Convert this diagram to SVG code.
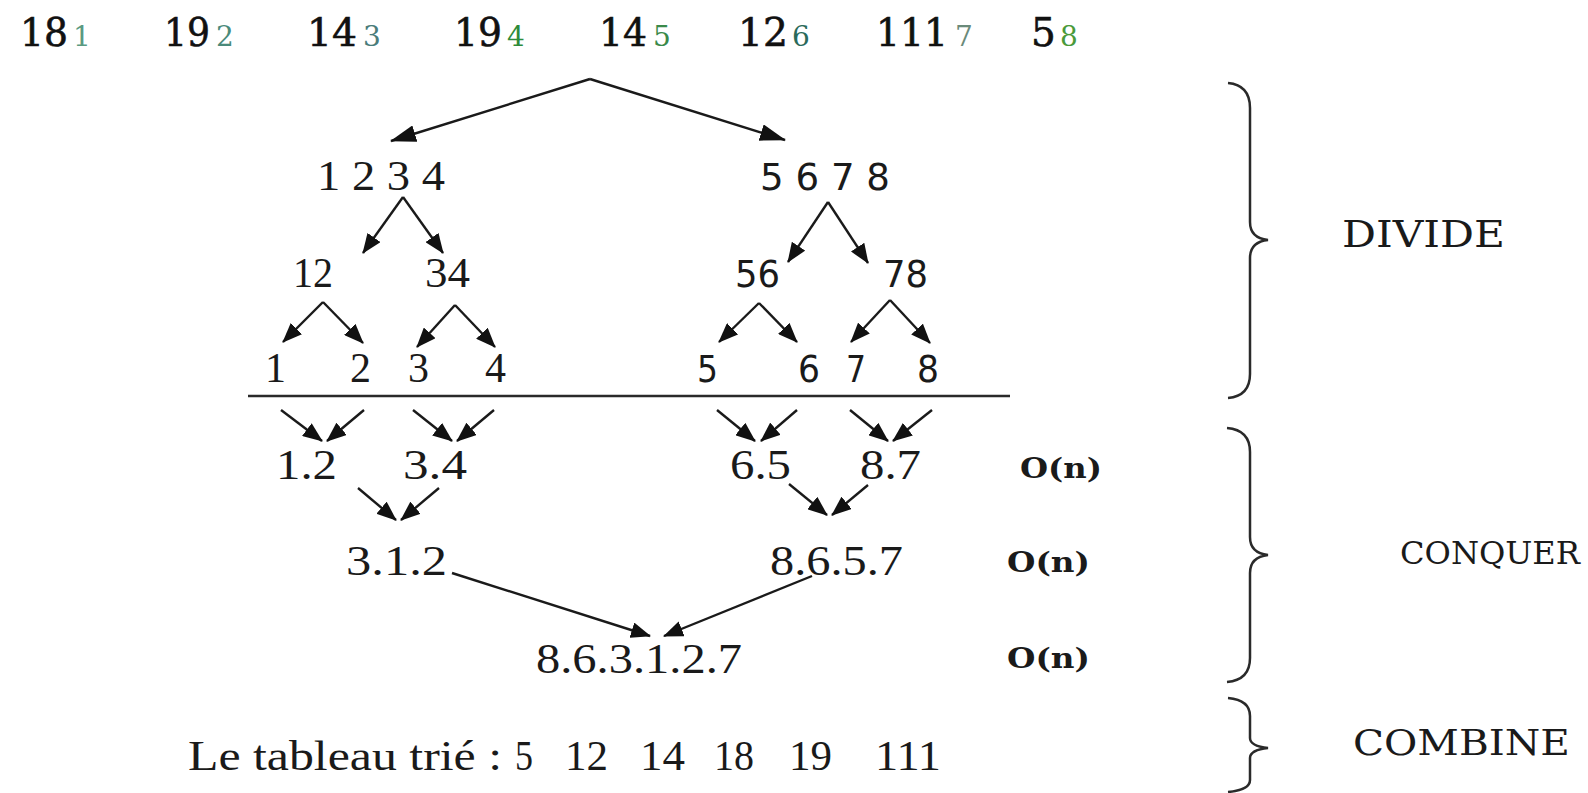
<svg xmlns="http://www.w3.org/2000/svg" width="1588" height="793" viewBox="0 0 1588 793">
<defs>
<style>
.top{font-family:"DejaVu Serif","Liberation Serif",serif;font-size:39px;fill:#111;stroke:#111;stroke-width:0.6}
.sub{font-family:"DejaVu Serif","Liberation Serif",serif;font-size:28px}
.ser{font-family:"Liberation Serif","Times New Roman",serif;font-size:42px;fill:#1a1a1a}
.san{font-family:"DejaVu Sans","Liberation Sans",sans-serif;font-size:38px;fill:#1a1a1a}
.on{font-family:"DejaVu Serif","Liberation Serif",serif;font-size:27px;font-weight:bold;fill:#1a1a1a}
.lab{font-family:"DejaVu Serif","Liberation Serif",serif;fill:#1a1a1a}
.ar{stroke:#1a1a1a;stroke-width:2.4;fill:none;marker-end:url(#ah)}
.arb{stroke:#1a1a1a;stroke-width:2.4;fill:none;marker-end:url(#ahb)}
.br{stroke:#2a2a2a;stroke-width:2.5;fill:none}
</style>
<marker id="ah" viewBox="0 0 20 16" refX="19" refY="8" markerWidth="20" markerHeight="16" markerUnits="userSpaceOnUse" orient="auto">
<path d="M0,0 L20,8 L0,16 z" fill="#111"/>
</marker>
<marker id="ahb" viewBox="0 0 26 17" refX="25" refY="8.5" markerWidth="26" markerHeight="17" markerUnits="userSpaceOnUse" orient="auto">
<path d="M0,0 L26,8.5 L0,17 z" fill="#111"/>
</marker>
</defs>
<rect width="1588" height="793" fill="#ffffff"/>

<g id="input-array">
<text class="top" x="20" y="46" textLength="48" lengthAdjust="spacingAndGlyphs">18</text><text class="sub" x="73" y="46" fill="#5a9a82">1</text>
<text class="top" x="164" y="46" textLength="46" lengthAdjust="spacingAndGlyphs">19</text><text class="sub" x="216" y="46" fill="#4a8a7a">2</text>
<text class="top" x="307" y="46" textLength="50" lengthAdjust="spacingAndGlyphs">14</text><text class="sub" x="363" y="46" fill="#4a7c7a">3</text>
<text class="top" x="454" y="46" textLength="48" lengthAdjust="spacingAndGlyphs">19</text><text class="sub" x="507" y="46" fill="#2e8b3a">4</text>
<text class="top" x="599" y="46" textLength="48" lengthAdjust="spacingAndGlyphs">14</text><text class="sub" x="653" y="46" fill="#3a8a4a">5</text>
<text class="top" x="738" y="46" textLength="50" lengthAdjust="spacingAndGlyphs">12</text><text class="sub" x="792" y="46" fill="#2a6a5a">6</text>
<text class="top" x="876" y="46" textLength="72" lengthAdjust="spacingAndGlyphs">111</text><text class="sub" x="955" y="46" fill="#6a8a7a">7</text>
<text class="top" x="1031" y="46" fill="#2a2a50" stroke="#2a2a50">5</text><text class="sub" x="1060" y="46" fill="#4a9a3a">8</text>
</g>

<g id="divide-left">
<text class="ser" x="317" y="190" textLength="128" lengthAdjust="spacingAndGlyphs">1 2 3 4</text>
<text class="ser" x="293" y="287" textLength="40" lengthAdjust="spacingAndGlyphs">12</text>
<text class="ser" x="425" y="287" textLength="45" lengthAdjust="spacingAndGlyphs">34</text>
<text class="ser" x="265" y="382">1</text>
<text class="ser" x="350" y="382">2</text>
<text class="ser" x="408" y="382">3</text>
<text class="ser" x="485" y="382">4</text>
</g>

<g id="divide-right">
<text class="san" x="760" y="190" textLength="130" lengthAdjust="spacingAndGlyphs">5 6 7 8</text>
<text class="san" x="735" y="287" textLength="45" lengthAdjust="spacingAndGlyphs">56</text>
<text class="san" x="883" y="287" textLength="45" lengthAdjust="spacingAndGlyphs">78</text>
<text class="san" x="697" y="382" textLength="21" lengthAdjust="spacingAndGlyphs">5</text>
<text class="san" x="798" y="382" textLength="22" lengthAdjust="spacingAndGlyphs">6</text>
<text class="san" x="846" y="382" textLength="20" lengthAdjust="spacingAndGlyphs">7</text>
<text class="san" x="917" y="382" textLength="22" lengthAdjust="spacingAndGlyphs">8</text>
</g>

<g id="separator">
<line x1="248" y1="396" x2="1010" y2="396" stroke="#2a2a2a" stroke-width="2.5"/>
</g>

<g id="conquer">
<text class="ser" x="276" y="479" textLength="61" lengthAdjust="spacingAndGlyphs">1.2</text>
<text class="ser" x="403" y="479" textLength="64" lengthAdjust="spacingAndGlyphs">3.4</text>
<text class="ser" x="730" y="479" textLength="61" lengthAdjust="spacingAndGlyphs">6.5</text>
<text class="ser" x="860" y="479" textLength="61" lengthAdjust="spacingAndGlyphs">8.7</text>
<text class="ser" x="346" y="575" textLength="101" lengthAdjust="spacingAndGlyphs">3.1.2</text>
<text class="ser" x="770" y="575" textLength="133" lengthAdjust="spacingAndGlyphs">8.6.5.7</text>
<text class="ser" x="536" y="673" textLength="206" lengthAdjust="spacingAndGlyphs">8.6.3.1.2.7</text>
</g>

<g id="complexity">
<text class="on" x="1020" y="478" textLength="82" lengthAdjust="spacingAndGlyphs">O(n)</text>
<text class="on" x="1007" y="572" textLength="83" lengthAdjust="spacingAndGlyphs">O(n)</text>
<text class="on" x="1007" y="668" textLength="83" lengthAdjust="spacingAndGlyphs">O(n)</text>
</g>

<g id="result">
<text class="ser" x="188" y="770" textLength="314" lengthAdjust="spacingAndGlyphs">Le tableau trié :</text>
<text class="ser" x="515" y="770" textLength="18" lengthAdjust="spacingAndGlyphs">5</text>
<text class="ser" x="565" y="770" textLength="43" lengthAdjust="spacingAndGlyphs">12</text>
<text class="ser" x="640" y="770" textLength="45" lengthAdjust="spacingAndGlyphs">14</text>
<text class="ser" x="714" y="770" textLength="40" lengthAdjust="spacingAndGlyphs">18</text>
<text class="ser" x="789" y="770" textLength="43" lengthAdjust="spacingAndGlyphs">19</text>
<text class="ser" x="875" y="770" textLength="66" lengthAdjust="spacingAndGlyphs">111</text>
</g>

<g id="phases">
<path class="br" d="M1228,83 Q1250,85 1250,108 L1250,222 Q1250,238 1268,240 Q1250,242 1250,258 L1250,374 Q1250,396 1228,398"/>
<text class="lab" x="1342" y="247" font-size="38" textLength="163" lengthAdjust="spacingAndGlyphs">DIVIDE</text>
<path class="br" d="M1227,428 Q1250,430 1250,452 L1250,537 Q1250,553 1268,555 Q1250,557 1250,573 L1250,658 Q1250,680 1227,682"/>
<text class="lab" x="1400" y="564" font-size="31" textLength="180" lengthAdjust="spacingAndGlyphs">CONQUER</text>
<path class="br" d="M1228,698 Q1250,700 1250,716 L1250,738 Q1250,746 1268,748 Q1250,750 1250,758 L1250,780 Q1250,790 1228,792"/>
<text class="lab" x="1353" y="755" font-size="36" textLength="217" lengthAdjust="spacingAndGlyphs">COMBINE</text>
</g>

<g id="connectors">
<line class="arb" x1="590" y1="79" x2="391" y2="141"/>
<line class="arb" x1="590" y1="79" x2="785" y2="140"/>
<line class="ar" x1="403" y1="197" x2="363" y2="253"/>
<line class="ar" x1="403" y1="197" x2="443" y2="253"/>
<line class="ar" x1="323" y1="302" x2="283" y2="342"/>
<line class="ar" x1="323" y1="302" x2="363" y2="343"/>
<line class="ar" x1="455" y1="305" x2="417" y2="347"/>
<line class="ar" x1="455" y1="305" x2="495" y2="347"/>
<line class="ar" x1="828" y1="202" x2="788" y2="262"/>
<line class="ar" x1="828" y1="202" x2="868" y2="263"/>
<line class="ar" x1="759" y1="303" x2="719" y2="342"/>
<line class="ar" x1="759" y1="303" x2="797" y2="342"/>
<line class="ar" x1="890" y1="300" x2="851" y2="342"/>
<line class="ar" x1="890" y1="300" x2="930" y2="343"/>
<line class="ar" x1="281" y1="410" x2="322" y2="441"/>
<line class="ar" x1="364" y1="410" x2="327" y2="441"/>
<line class="ar" x1="413" y1="410" x2="452" y2="441"/>
<line class="ar" x1="494" y1="410" x2="457" y2="441"/>
<line class="ar" x1="717" y1="410" x2="755" y2="441"/>
<line class="ar" x1="797" y1="410" x2="761" y2="441"/>
<line class="ar" x1="850" y1="410" x2="888" y2="441"/>
<line class="ar" x1="932" y1="410" x2="893" y2="441"/>
<line class="ar" x1="358" y1="488" x2="396" y2="520"/>
<line class="ar" x1="439" y1="488" x2="401" y2="520"/>
<line class="ar" x1="789" y1="484" x2="827" y2="515"/>
<line class="ar" x1="868" y1="485" x2="832" y2="515"/>
<line class="ar" x1="452" y1="573" x2="650" y2="636"/>
<line class="ar" x1="812" y1="576" x2="664" y2="636"/>
</g>
</svg>
